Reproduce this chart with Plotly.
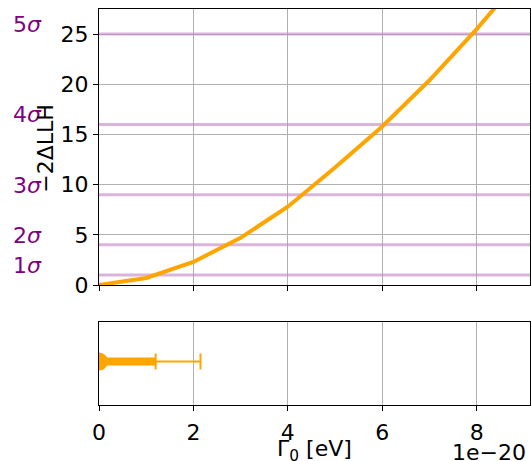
import plotly.graph_objects as go

# Likelihood scan: width parameter (units of 1e-20 eV) vs -2ΔLLH
gamma0 = [0, 1, 2, 3, 4, 5, 6, 7, 8, 9]
neg2dllh = [0.0, 0.7, 2.3, 4.7, 7.8, 11.7, 15.8, 20.4, 25.5, 31.0]

# Significance reference levels
sigma_levels = [1, 2, 3, 4, 5]
sigma_labels = ["1<i>σ</i>", "2<i>σ</i>", "3<i>σ</i>", "4<i>σ</i>", "5<i>σ</i>"]

# Best fit with 1σ / 2σ intervals (units of 1e-20 eV)
best_fit = 0.0
err_1sigma = 1.2
err_2sigma = 2.15

x_ticks = [0, 2, 4, 6, 8]

ORANGE = "#FFA500"
PURPLE = "#800080"
FONT = "DejaVu Sans"
FS = 22

fig = go.Figure()

# Top panel: sigma reference lines
for s in sigma_levels:
    fig.add_trace(go.Scatter(
        x=[0, 9.13], y=[s ** 2, s ** 2], mode="lines",
        line=dict(color="rgba(200,140,200,0.65)", width=3),
        xaxis="x", yaxis="y", hoverinfo="skip", showlegend=False))

# Top panel: scan curve
fig.add_trace(go.Scatter(
    x=gamma0, y=neg2dllh, mode="lines",
    line=dict(color=ORANGE, width=4),
    xaxis="x", yaxis="y", showlegend=False))

# Bottom panel: 2σ interval (thin bar with caps)
fig.add_trace(go.Scatter(
    x=[best_fit], y=[0], mode="markers",
    marker=dict(color=ORANGE, size=2, opacity=0),
    error_x=dict(type="data", symmetric=False, array=[err_2sigma],
                 arrayminus=[0], color=ORANGE, thickness=2, width=8),
    xaxis="x2", yaxis="y2", showlegend=False))

# Bottom panel: 1σ interval (thick bar with cap)
fig.add_trace(go.Scatter(
    x=[best_fit, err_1sigma], y=[0, 0], mode="lines",
    line=dict(color=ORANGE, width=8),
    xaxis="x2", yaxis="y2", showlegend=False))
fig.add_trace(go.Scatter(
    x=[best_fit], y=[0], mode="markers",
    marker=dict(color=ORANGE, size=18),
    error_x=dict(type="data", symmetric=False, array=[err_1sigma],
                 arrayminus=[0], color=ORANGE, thickness=2, width=8),
    xaxis="x2", yaxis="y2", showlegend=False))

axis_common = dict(showline=True, linecolor="black", linewidth=1, mirror=True,
                   ticks="outside", ticklen=5, tickcolor="black",
                   gridcolor="#b0b0b0", gridwidth=1, zeroline=False,
                   tickfont=dict(family=FONT, size=FS, color="black"))

fig.update_layout(
    width=531, height=461,
    margin=dict(l=99, r=1, t=9, b=56),
    plot_bgcolor="white", paper_bgcolor="white",
    font=dict(family=FONT, size=FS, color="black"),
    xaxis=dict(domain=[0, 1], range=[0, 9.13], tickvals=x_ticks,
               showticklabels=False, anchor="y", **axis_common),
    yaxis=dict(domain=[0.303, 1], range=[0, 27.5], tickvals=[0, 5, 10, 15, 20, 25],
               anchor="x", **axis_common),
    xaxis2=dict(domain=[0, 1], range=[0, 9.13], tickvals=x_ticks,
                anchor="y2", ticklabelstandoff=3, **axis_common),
    yaxis2=dict(domain=[0, 0.2096], range=[-1.1, 1], showticklabels=False,
                showgrid=False, anchor="x2",
                showline=True, linecolor="black", linewidth=1, mirror=True,
                ticks="", zeroline=False),
)

# Sigma labels beside the reference lines
for s, lab in zip(sigma_levels, sigma_labels):
    fig.add_annotation(x=-0.165, xref="paper", y=s ** 2, yref="y",
                       text=lab, showarrow=False, xanchor="center", yanchor="bottom",
                       yshift=-5,
                       font=dict(family=FONT, size=FS, color=PURPLE))

# Y-axis title
fig.add_annotation(x=-0.125, xref="paper", y=13.6, yref="y", text="−2ΔLLH",
                   textangle=-90, showarrow=False, xanchor="center", yanchor="middle",
                   font=dict(family=FONT, size=FS, color="black"))

# X-axis title and offset label
fig.add_annotation(x=0.5, xref="paper", y=-0.073, yref="paper",
                   text="Γ<sub>0</sub> [eV]", showarrow=False,
                   xanchor="center", yanchor="top",
                   font=dict(family=FONT, size=FS, color="black"))
fig.add_annotation(x=0.995, xref="paper", y=-0.083, yref="paper",
                   text="1e−20", showarrow=False,
                   xanchor="right", yanchor="top",
                   font=dict(family=FONT, size=FS, color="black"))

fig.write_html("out.html")
